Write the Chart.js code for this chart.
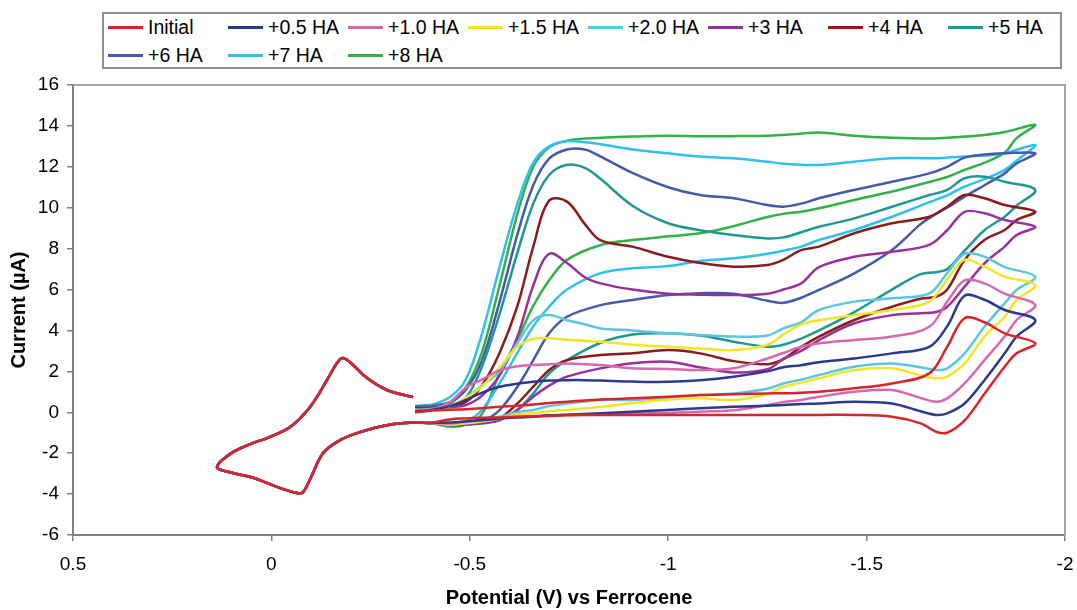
<!DOCTYPE html>
<html>
<head>
<meta charset="utf-8">
<script src="https://cdn.jsdelivr.net/npm/chart.js@4.4.1/dist/chart.umd.min.js"></script>
<style>
html, body { margin: 0; padding: 0; background: #fff; }
#wrap { position: relative; width: 1077px; height: 610px; }
#cv_chart { position: absolute; left: 0; top: 0; }
#cv_legend { position: absolute; left: 102px; top: 12px; width: 960px; height: 57px; box-sizing: border-box;
  border: 2px solid #8e8e8e; background: #fff; font-family: 'Liberation Sans', Arial, sans-serif; font-size: 19.5px; color: #000; }
#cv_legend .item { position: absolute; display: flex; align-items: center; white-space: nowrap; height: 22px; }
#cv_legend .sw { width: 35px; height: 3px; margin-right: 5px; }
</style>
</head>
<body>
<div id="wrap">
  <canvas id="cv_chart" width="1077" height="610"></canvas>
  <div id="cv_legend"></div>
</div>
<script>
// scan: start at -0.36 V, forward (negative) to -1.925 V, back through the Fc couple, end at -0.36 V
var labels = ['Initial', '+0.5 HA', '+1.0 HA', '+1.5 HA', '+2.0 HA', '+3 HA', '+4 HA', '+5 HA', '+6 HA', '+7 HA', '+8 HA'];
var colors = ['#d7262b', '#2b3990', '#d668b0', '#f3e42a', '#5cc6e0', '#9a309c', '#8c1c1c', '#1f9893', '#4559ad', '#2fc0ee', '#33b04a'];

var fwdV = [-0.362, -0.40, -0.45, -0.49, -0.53, -0.575, -0.62, -0.66, -0.70, -0.745, -0.79, -0.83, -0.91, -1.0,
            -1.08, -1.165, -1.25, -1.29, -1.335, -1.38, -1.469, -1.564, -1.658, -1.703, -1.747, -1.797, -1.848, -1.925];
var revV = [-1.878, -1.848, -1.797, -1.747, -1.703, -1.675, -1.636, -1.564, -1.469, -1.38, -1.335, -1.29, -1.25, -1.165,
            -1.08, -1.0, -0.91, -0.83, -0.745, -0.70, -0.66, -0.62, -0.575, -0.53, -0.49, -0.45];

// ferrocene loop (same for every trace)
var fcV = [-0.40, -0.357, -0.291, -0.223, -0.173, -0.13, -0.097, -0.08, -0.065, -0.014, 0.046, 0.097, 0.137,
           0.097, 0.046, 0.011, -0.047, -0.097, -0.14, -0.165, -0.18, -0.206, -0.241, -0.291, -0.357];
var fcI = [-0.52, -0.5, -0.63, -0.97, -1.36, -2.0, -3.3, -3.9, -3.95, -3.65, -3.2, -2.97, -2.68,
           -1.95, -1.5, -1.26, -0.72, 0.25, 1.57, 2.4, 2.65, 2.31, 1.67, 1.09, 0.74];

var initialFwd = [0.0, 0.08, 0.12, 0.15, 0.2, 0.27, 0.32, 0.38, 0.45, 0.52, 0.58, 0.62, 0.68, 0.76,
                  0.84, 0.88, 0.92, 0.93, 0.96, 1.0, 1.17, 1.41, 1.9, 3.2, 4.6, 4.4, 3.86, 3.37];
var initialRev = [2.88, 2.23, 0.9, -0.4, -1.0, -0.95, -0.54, -0.22, -0.13, -0.13, -0.13, -0.13, -0.13, -0.13,
                  -0.13, -0.13, -0.13, -0.13, -0.15, -0.18, -0.2, -0.22, -0.25, -0.27, -0.3, -0.35];
var ha05Fwd = [0.05, 0.1, 0.3, 0.6, 0.95, 1.25, 1.4, 1.49, 1.55, 1.57, 1.57, 1.55, 1.5, 1.49,
               1.57, 1.74, 2.0, 2.2, 2.3, 2.45, 2.63, 2.88, 3.2, 4.2, 5.7, 5.5, 5.0, 4.51];
var ha05Rev = [3.7, 2.88, 1.57, 0.43, -0.05, -0.13, 0.05, 0.43, 0.52, 0.43, 0.4, 0.35, 0.32, 0.27,
               0.2, 0.11, 0.03, -0.05, -0.12, -0.15, -0.22, -0.25, -0.3, -0.38, -0.45, -0.5];
var ha10Fwd = [0.08, 0.12, 0.5, 1.2, 1.6, 2.05, 2.25, 2.31, 2.35, 2.39, 2.35, 2.31, 2.15, 2.12,
               2.07, 2.15, 2.63, 2.9, 3.2, 3.37, 3.53, 3.7, 4.18, 5.4, 6.45, 6.3, 5.8, 5.24];
var ha10Rev = [4.51, 3.7, 2.55, 1.41, 0.68, 0.52, 0.7, 1.09, 1.0, 0.76, 0.6, 0.5, 0.35, 0.1,
               0.03, -0.03, -0.05, -0.1, -0.13, -0.15, -0.2, -0.22, -0.3, -0.4, -0.46, -0.55];
var ha15Fwd = [0.1, 0.12, 0.3, 0.7, 1.25, 2.2, 3.2, 3.6, 3.62, 3.55, 3.5, 3.45, 3.3, 3.2,
               3.12, 3.04, 3.3, 3.8, 4.3, 4.5, 4.75, 5.0, 5.41, 6.5, 7.45, 7.12, 6.63, 6.22];
var ha15Rev = [5.49, 4.67, 3.7, 2.39, 1.74, 1.66, 1.8, 2.15, 2.07, 1.66, 1.45, 1.25, 0.9, 0.6,
               0.68, 0.62, 0.45, 0.27, 0.11, 0.05, -0.05, -0.1, -0.3, -0.45, -0.54, -0.6];
var ha20Fwd = [0.12, 0.15, 0.3, 0.7, 1.3, 2.0, 3.4, 4.5, 4.75, 4.5, 4.3, 4.1, 4.0, 3.86,
               3.78, 3.7, 3.75, 4.1, 4.4, 5.0, 5.41, 5.57, 5.81, 6.8, 7.75, 7.6, 7.1, 6.63];
var ha20Rev = [5.98, 5.33, 4.18, 2.88, 2.15, 2.07, 2.2, 2.39, 2.23, 1.82, 1.6, 1.41, 1.15, 0.92,
               0.84, 0.7, 0.6, 0.6, 0.43, 0.3, 0.11, 0.0, -0.22, -0.4, -0.54, -0.6];
var ha3Fwd = [0.15, 0.18, 0.25, 0.35, 0.8, 1.8, 3.7, 6.2, 7.75, 7.3, 6.6, 6.3, 6.0, 5.8,
              5.75, 5.73, 5.8, 6.0, 6.3, 7.1, 7.6, 7.85, 8.18, 8.9, 9.8, 9.73, 9.4, 9.07];
var ha3Rev = [8.67, 8.1, 7.28, 6.14, 5.16, 4.9, 4.84, 4.75, 4.35, 3.53, 3.0, 2.6, 2.1, 1.95,
              2.2, 2.47, 2.4, 2.15, 1.74, 1.3, 0.76, 0.11, -0.38, -0.52, -0.58, -0.6];
var ha4Fwd = [0.2, 0.22, 0.3, 0.5, 1.3, 2.9, 5.2, 8.1, 10.35, 10.3, 9.2, 8.4, 8.1, 7.6,
              7.3, 7.12, 7.2, 7.45, 7.93, 8.1, 8.75, 9.24, 9.56, 10.05, 10.62, 10.46, 10.13, 9.81];
var ha4Rev = [9.4, 8.91, 8.42, 7.45, 6.0, 5.65, 5.55, 5.16, 4.51, 3.7, 3.2, 2.6, 2.35, 2.5,
              2.88, 3.04, 2.88, 2.8, 2.55, 2.07, 1.25, 0.43, -0.3, -0.5, -0.58, -0.6];
var ha5Fwd = [0.25, 0.27, 0.35, 0.7, 2.2, 4.8, 7.8, 10.2, 11.6, 12.1, 11.95, 11.4, 10.1, 9.24,
              8.9, 8.67, 8.5, 8.55, 8.8, 9.07, 9.48, 10.05, 10.62, 10.87, 11.44, 11.52, 11.27, 10.87];
var ha5Rev = [10.1, 9.56, 8.9, 7.9, 7.0, 6.85, 6.75, 6.0, 4.9, 4.0, 3.6, 3.3, 3.2, 3.45,
              3.75, 3.86, 3.8, 3.4, 2.55, 1.9, 0.92, 0.11, -0.38, -0.55, -0.6, -0.62];
var ha6Fwd = [0.28, 0.3, 0.5, 1.1, 2.5, 5.4, 8.7, 11.1, 12.4, 12.85, 12.85, 12.5, 11.7, 11.0,
              10.62, 10.46, 10.13, 10.05, 10.2, 10.46, 10.87, 11.27, 11.68, 12.0, 12.45, 12.6, 12.66, 12.66];
var ha6Rev = [12.17, 11.68, 11.1, 10.54, 10.0, 9.7, 9.2, 7.93, 6.79, 5.98, 5.6, 5.35, 5.45, 5.8,
              5.82, 5.73, 5.49, 5.24, 4.67, 3.86, 2.55, 1.25, 0.11, -0.46, -0.6, -0.62];
var ha7Fwd = [0.3, 0.35, 0.75, 1.6, 3.8, 7.1, 10.2, 12.2, 13.0, 13.25, 13.2, 13.1, 12.85, 12.66,
              12.5, 12.42, 12.25, 12.15, 12.1, 12.09, 12.25, 12.42, 12.42, 12.45, 12.5, 12.55, 12.66, 13.07];
var ha7Rev = [12.3, 11.85, 11.4, 11.03, 10.6, 10.4, 10.1, 9.56, 8.91, 8.42, 8.1, 7.9, 7.75, 7.53,
              7.4, 7.15, 7.04, 6.8, 6.0, 5.16, 4.2, 2.9, 1.41, 0.1, -0.46, -0.6];
var ha8Fwd = [0.31, 0.35, 0.45, 1.2, 2.9, 6.2, 9.7, 12.0, 12.95, 13.28, 13.38, 13.42, 13.48, 13.52,
              13.5, 13.5, 13.52, 13.56, 13.62, 13.68, 13.52, 13.42, 13.38, 13.42, 13.48, 13.56, 13.7, 14.05];
var ha8Rev = [13.4, 12.7, 12.2, 11.85, 11.5, 11.35, 11.15, 10.79, 10.38, 9.97, 9.8, 9.7, 9.55, 9.1,
              8.75, 8.6, 8.42, 8.18, 7.45, 6.45, 5.2, 3.55, 1.9, -0.1, -0.6, -0.7];

var fwdSets = [initialFwd, ha05Fwd, ha10Fwd, ha15Fwd, ha20Fwd, ha3Fwd, ha4Fwd, ha5Fwd, ha6Fwd, ha7Fwd, ha8Fwd];
var revSets = [initialRev, ha05Rev, ha10Rev, ha15Rev, ha20Rev, ha3Rev, ha4Rev, ha5Rev, ha6Rev, ha7Rev, ha8Rev];

function buildTrace(fwd, rev) {
    var pts = [];
    fwdV.forEach(function(v, i){ pts.push({x: v, y: fwd[i]}); });
    revV.forEach(function(v, i){ pts.push({x: v, y: rev[i]}); });
    fcV.forEach(function(v, i){ pts.push({x: v, y: fcI[i]}); });
    return pts;
}

var datasets = labels.map(function(lab, k){
    return {
        label: lab,
        data: buildTrace(fwdSets[k], revSets[k]),
        borderColor: colors[k],
        backgroundColor: colors[k],
        borderWidth: 2.5,
        pointRadius: 0,
        showLine: true,
        fill: false,
        tension: 0.35
    };
});

var frame = {
    id: 'frame',
    afterDraw: function(chart){
        var a = chart.chartArea, ctx = chart.ctx;
        ctx.save();
        ctx.strokeStyle = '#a4a4a4';
        ctx.lineWidth = 2;
        ctx.beginPath();
        ctx.moveTo(a.left, a.top);
        ctx.lineTo(a.right, a.top);
        ctx.lineTo(a.right, a.bottom);
        ctx.stroke();
        ctx.restore();
    }
};

var fontFam = "'Liberation Sans', Arial, sans-serif";
var plainNum = function(v){ return String(Math.round(v * 10) / 10); };

var cv_chart = new Chart(document.getElementById('cv_chart'), {
    type: 'scatter',
    data: { datasets: datasets },
    options: {
        responsive: false,
        animation: false,
        devicePixelRatio: 1,
        layout: { padding: { top: 85, right: 12, left: 0, bottom: 0 } },
        plugins: { legend: { display: false }, tooltip: { enabled: false } },
        scales: {
            x: {
                type: 'linear', min: -2, max: 0.5, reverse: true,
                ticks: { stepSize: 0.5, color: '#000', padding: 12, callback: plainNum,
                         font: { family: fontFam, size: 19 } },
                grid: { drawOnChartArea: false, drawTicks: true, tickLength: 6, color: '#808080', lineWidth: 1.5 },
                border: { display: true, color: '#808080', width: 2 },
                title: { display: true, text: 'Potential (V) vs Ferrocene', color: '#000',
                         font: { family: fontFam, size: 20, weight: 'bold' }, padding: { top: 0, bottom: 0 } },
                afterFit: function(scale){ scale.height = 75; scale.paddingLeft = 0; scale.paddingRight = 0; }
            },
            y: {
                type: 'linear', min: -6, max: 16,
                ticks: { stepSize: 2, color: '#000', padding: 8, callback: plainNum,
                         font: { family: fontFam, size: 19 } },
                grid: { drawOnChartArea: false, drawTicks: true, tickLength: 6, color: '#808080', lineWidth: 1.5 },
                border: { display: true, color: '#808080', width: 2 },
                title: { display: true, text: 'Current (\u00b5A)', color: '#000',
                         font: { family: fontFam, size: 20, weight: 'bold' }, padding: { top: 7, bottom: 2 } },
                afterFit: function(scale){ scale.width = 73; }
            }
        }
    },
    plugins: [frame]
});

// html legend laid out in 8 columns like the original
var legendBox = document.getElementById('cv_legend');
var items = cv_chart.options.plugins.legend.labels.generateLabels(cv_chart);
items.forEach(function(it, i){
    var col = i % 8, row = Math.floor(i / 8);
    var d = document.createElement('div');
    d.className = 'item';
    d.style.left = (4 + col * 120) + 'px';
    d.style.top = (2 + row * 28) + 'px';
    var sw = document.createElement('span');
    sw.className = 'sw';
    sw.style.background = it.strokeStyle;
    var t = document.createElement('span');
    t.textContent = it.text;
    d.appendChild(sw);
    d.appendChild(t);
    legendBox.appendChild(d);
});
</script>
</body>
</html>
